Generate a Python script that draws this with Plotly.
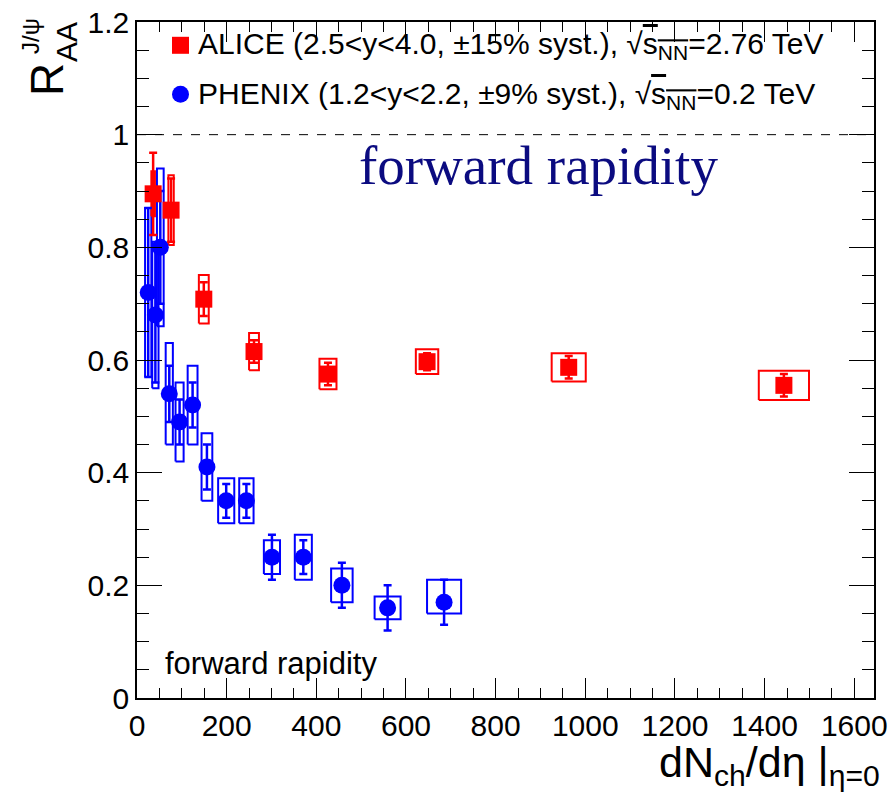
import plotly.graph_objects as go

# ---------------- data ----------------
alice_x = [36, 76, 149, 261, 426, 647, 963, 1443]
alice_y = [0.895, 0.866, 0.708, 0.615, 0.575, 0.597, 0.587, 0.555]
alice_stat = [0.073, 0.056, 0.03, 0.02, 0.02, 0.015, 0.02, 0.02]
alice_sys = [0.04, 0.062, 0.043, 0.033, 0.027, 0.022, 0.025, 0.026]
alice_xsys = [4, 6, 11, 11, 19, 25, 38, 56]

phenix_x = [25, 41, 52, 72, 95, 124, 156, 199, 244, 301, 371, 457, 559, 685]
phenix_y = [0.72, 0.68, 0.80, 0.54, 0.49, 0.52, 0.41, 0.35, 0.35, 0.25, 0.25, 0.20, 0.16, 0.17]
phenix_stat = [0.15, 0.12, 0.10, 0.05, 0.04, 0.04, 0.04, 0.03, 0.03, 0.04, 0.03, 0.04, 0.04, 0.04]
phenix_sys_up = [0.15, 0.13, 0.14, 0.09, 0.07, 0.07, 0.06, 0.04, 0.04, 0.03, 0.04, 0.03, 0.02, 0.04]
phenix_sys_dn = [0.15, 0.13, 0.14, 0.09, 0.07, 0.07, 0.06, 0.04, 0.04, 0.03, 0.04, 0.03, 0.02, 0.02]
phenix_xsys = [7, 7, 7.5, 8, 9, 11, 12, 18, 16, 18, 19, 24, 29, 38]

x_ticks = [0, 200, 400, 600, 800, 1000, 1200, 1400, 1600]
y_ticks = [0, 0.2, 0.4, 0.6, 0.8, 1, 1.2]
y_ticklabels = ["0", "0.2", "0.4", "0.6", "0.8", "1", "1.2"]

RED = "#ff0000"
BLUE = "#0000ff"
FONT = "Liberation Sans, Arial, sans-serif"


def box_path(xs, ys, dxs, ups, dns):
    px, py = [], []
    for x, y, dx, u, d in zip(xs, ys, dxs, ups, dns):
        px += [x - dx, x + dx, x + dx, x - dx, x - dx, None]
        py += [y - d, y - d, y + u, y + u, y - d, None]
    return px, py


fig = go.Figure()

# systematic boxes
bx, by = box_path(phenix_x, phenix_y, phenix_xsys, phenix_sys_up, phenix_sys_dn)
fig.add_trace(go.Scatter(x=bx, y=by, mode="lines", line=dict(color=BLUE, width=2),
                         showlegend=False, hoverinfo="skip"))
bx, by = box_path(alice_x, alice_y, alice_xsys, alice_sys, alice_sys)
fig.add_trace(go.Scatter(x=bx, y=by, mode="lines", line=dict(color=RED, width=2),
                         showlegend=False, hoverinfo="skip"))

# points with stat errors
fig.add_trace(go.Scatter(
    x=phenix_x, y=phenix_y, mode="markers",
    marker=dict(symbol="circle", size=17, color=BLUE),
    error_y=dict(type="data", array=phenix_stat, visible=True, color=BLUE, thickness=2.5, width=4),
    showlegend=False))
fig.add_trace(go.Scatter(
    x=alice_x, y=alice_y, mode="markers",
    marker=dict(symbol="square", size=17, color=RED),
    error_y=dict(type="data", array=alice_stat, visible=True, color=RED, thickness=2.5, width=4),
    showlegend=False))

# plot area in px
L, R, T, B = 137, 874, 22, 698
W, H = 889, 800


def px2paper(px, py):
    return (px - L) / (R - L), (B - py) / (B - T)


# dashed line at 1
fig.add_shape(type="line", xref="paper", x0=0, x1=1, yref="y", y0=1, y1=1,
              line=dict(color="black", width=1, dash="dash"))

# legend symbols
for (cx, cy, sym, col) in [(180.5, 45.3, "rect", RED), (180.5, 94.3, "circle", BLUE)]:
    x0, y0 = px2paper(cx - 8.5, cy + 8.5)
    x1, y1 = px2paper(cx + 8.5, cy - 8.5)
    fig.add_shape(type=sym, xref="paper", yref="paper", x0=x0, x1=x1, y0=y0, y1=y1,
                  fillcolor=col, line=dict(color=col, width=0))

annots = []
ax, ay = px2paper(196, 45)
annots.append(dict(x=ax, y=ay, xref="paper", yref="paper", xanchor="left", yanchor="middle",
                   text="ALICE (2.5<y<4.0, ±15% syst.), √<span style='text-decoration:overline'>s<sub>NN</sub></span>=2.76 TeV",
                   showarrow=False, font=dict(family=FONT, size=30, color="black")))
ax, ay = px2paper(196, 95)
annots.append(dict(x=ax, y=ay, xref="paper", yref="paper", xanchor="left", yanchor="middle",
                   text="PHENIX (1.2<y<2.2, ±9% syst.), √<span style='text-decoration:overline'>s<sub>NN</sub></span>=0.2 TeV",
                   showarrow=False, font=dict(family=FONT, size=30, color="black")))

ax, ay = px2paper(538, 166)
annots.append(dict(x=ax, y=ay, xref="paper", yref="paper", xanchor="center", yanchor="middle",
                   text="forward rapidity", showarrow=False,
                   font=dict(family="Liberation Serif, Times New Roman, serif", size=55, color="#0b0b80")))
ax, ay = px2paper(163, 663)
annots.append(dict(x=ax, y=ay, xref="paper", yref="paper", xanchor="left", yanchor="middle",
                   text="forward rapidity", showarrow=False,
                   font=dict(family=FONT, size=31, color="black")))

# x axis title
ax, ay = px2paper(882, 765)
annots.append(dict(x=ax, y=ay, xref="paper", yref="paper", xanchor="right", yanchor="middle",
                   text="dN<sub>ch</sub>/dη |<sub>η=0</sub>", showarrow=False,
                   font=dict(family=FONT, size=43, color="black")))

# y axis title (stacked sub/superscript)
ax, ay = px2paper(47, 80)
annots.append(dict(x=ax, y=ay, xref="paper", yref="paper", xanchor="center", yanchor="middle",
                   text="R", textangle=-90, showarrow=False,
                   font=dict(family=FONT, size=46, color="black")))
ax, ay = px2paper(66, 42)
annots.append(dict(x=ax, y=ay, xref="paper", yref="paper", xanchor="center", yanchor="middle",
                   text="AA", textangle=-90, showarrow=False,
                   font=dict(family=FONT, size=30, color="black")))
ax, ay = px2paper(30, 36)
annots.append(dict(x=ax, y=ay, xref="paper", yref="paper", xanchor="center", yanchor="middle",
                   text="J/ψ", textangle=-90, showarrow=False,
                   font=dict(family=FONT, size=24, color="black")))

fig.update_layout(
    width=W, height=H,
    margin=dict(l=L, r=W - R, t=T, b=H - B, autoexpand=False),
    plot_bgcolor="white", paper_bgcolor="white",
    annotations=annots,
    font=dict(family=FONT, color="black"),
)

fig.update_xaxes(range=[0, 1644], tickvals=x_ticks, ticks="inside", ticklen=20, tickwidth=1.2,
                 tickcolor="black", showline=True, linecolor="black", linewidth=1.5, mirror="allticks",
                 showgrid=False, zeroline=False, tickfont=dict(family=FONT, size=30), automargin=False,
                 minor=dict(dtick=50, tick0=0, ticks="inside", ticklen=10, tickwidth=1, tickcolor="black",
                            showgrid=False))
fig.update_yaxes(range=[0, 1.2], tickvals=y_ticks, ticktext=y_ticklabels, ticks="inside", ticklen=25,
                 tickwidth=1.2, tickcolor="black", showline=True, linecolor="black", linewidth=1.5,
                 mirror="allticks", showgrid=False, zeroline=False, tickfont=dict(family=FONT, size=30),
                 automargin=False,
                 minor=dict(dtick=0.05, tick0=0, ticks="inside", ticklen=12, tickwidth=1, tickcolor="black",
                            showgrid=False))

fig.write_html("out.html")
